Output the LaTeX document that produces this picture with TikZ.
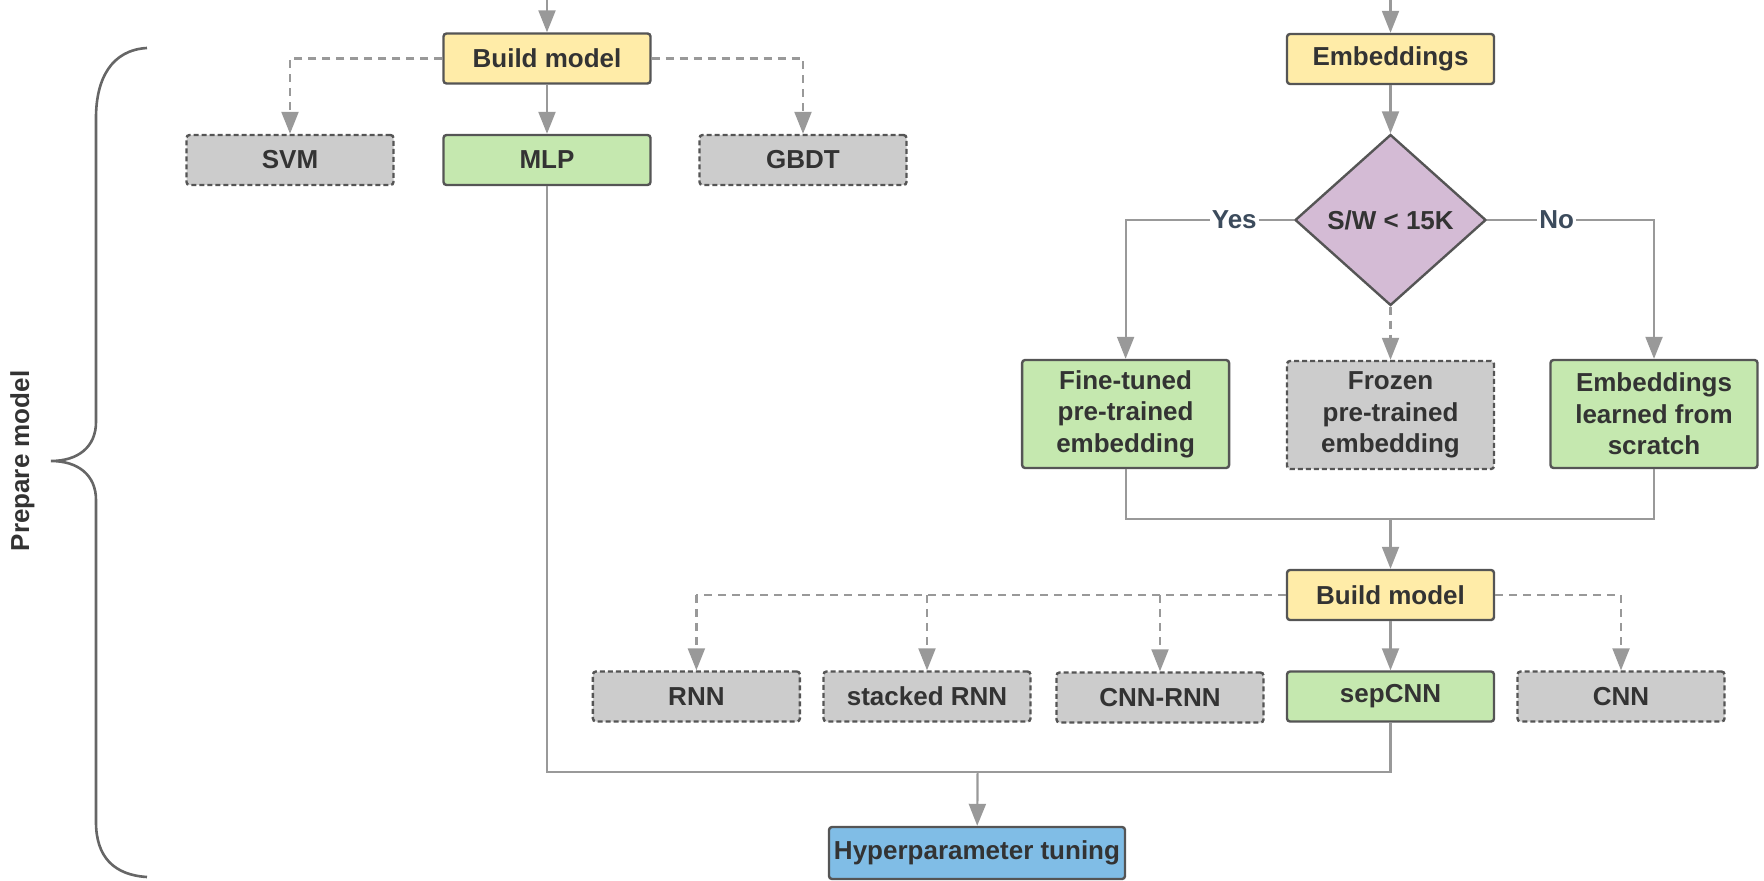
\documentclass[tikz,border=0pt]{standalone}
\usepackage{fontspec}
\setmainfont{Liberation Sans}
\usetikzlibrary{arrows.meta,shapes.geometric}

\definecolor{boxyellow}{HTML}{FFECA8}
\definecolor{boxgreen}{HTML}{C5E8AF}
\definecolor{boxgray}{HTML}{CCCCCC}
\definecolor{boxpurple}{HTML}{D4BBD5}
\definecolor{boxblue}{HTML}{80BDE6}
\definecolor{edgegray}{HTML}{555555}
\definecolor{linkgray}{HTML}{999999}
\definecolor{textdark}{HTML}{333333}
\definecolor{labelslate}{HTML}{3C4B5C}
\definecolor{bracegray}{HTML}{666666}

\tikzset{
  boxfont/.style={font=\bfseries\fontsize{13}{15.75}\selectfont},
  box/.style={draw=edgegray, line width=1.2pt, rounded corners=1.5pt,
    minimum width=103.5pt, minimum height=25pt, inner sep=0pt,
    align=center, boxfont, text=textdark},
  yellowbox/.style={box, fill=boxyellow},
  greenbox/.style={box, fill=boxgreen},
  optbox/.style={box, fill=boxgray, dash pattern=on 2.5pt off 1.5pt},
  bluebox/.style={box, fill=boxblue},
  tallbox/.style={minimum height=54pt},
  decision/.style={diamond, draw=edgegray, line width=1.2pt, fill=boxpurple,
    minimum width=95.5pt, minimum height=85.5pt, inner sep=0pt,
    boxfont, text=textdark},
  link/.style={draw=linkgray, line width=1.1pt},
  arrowlink/.style={link, -{Triangle[length=11pt,width=8.5pt]}},
  optline/.style={link, dash pattern=on 4pt off 3pt},
  optlink/.style={arrowlink, dash pattern=on 4pt off 3pt},
  branchlabel/.style={fill=white, inner sep=1pt, boxfont, text=labelslate},
}

\begin{document}
\begin{tikzpicture}[x=0.5pt,y=-0.5pt]
\useasboundingbox (0,0) rectangle (1764,881);

% left-hand column: classic models
\node[yellowbox] (bm1) at (547,58.5) {Build model};
\node[optbox] (svm) at (290,160) {SVM};
\node[greenbox] (mlp) at (547,160) {MLP};
\node[optbox] (gbdt) at (803,160) {GBDT};

% right-hand column: embeddings and sequence models
\node[yellowbox] (emb) at (1390.5,59) {Embeddings};
\node[decision] (sw) at (1390.5,220) {S/W < 15K};
\node[greenbox,tallbox] (fine) at (1125.6,414) {Fine-tuned\\pre-trained\\embedding};
\node[optbox,tallbox] (frozen) at (1390.5,415) {Frozen\\pre-trained\\embedding};
\node[greenbox,tallbox] (scratch) at (1654,414) {Embeddings\\learned from\\scratch};
\node[yellowbox] (bm2) at (1390.5,595) {Build model};
\node[optbox] (rnn) at (696.4,696.5) {RNN};
\node[optbox] (srnn) at (927,696.5) {stacked RNN};
\node[optbox] (cnnrnn) at (1160,697.5) {CNN-RNN};
\node[greenbox] (sepcnn) at (1390.5,696.5) {sepCNN};
\node[optbox] (cnn) at (1621,696.5) {CNN};

\node[bluebox, minimum width=148pt, minimum height=26pt] (hp) at (977,853) {Hyperparameter tuning};

% incoming flows
\coordinate (in1) at (547,0);
\coordinate (in2) at (1390.5,0);
\draw[arrowlink] (in1) -- (bm1);
\draw[arrowlink] (in2) -- (emb);

% classic model choices
\draw[optlink] (bm1.west) -| (svm.north);
\draw[optlink] (bm1.east) -| (gbdt.north);
\draw[arrowlink] (bm1) -- (mlp);

% embedding decision
\draw[arrowlink] (emb) -- (sw);
\draw[arrowlink] (sw.west) -| node[branchlabel, pos=0.177] {Yes} (fine.north);
\draw[arrowlink] (sw.east) -| node[branchlabel, pos=0.208] {No} (scratch.north);
\draw[optlink] (sw.south) -- (frozen.north);

\coordinate (join1) at (1390.5,518.6);
\draw[link] (fine.south) |- (join1) -| (scratch.south);
\draw[arrowlink] (join1) -- (bm2);

% sequence model choices
\coordinate (r1) at (rnn.north |- bm2.west);
\coordinate (r2) at (srnn.north |- bm2.west);
\coordinate (r3) at (cnnrnn.north |- bm2.west);
\draw[optline] (bm2.west) -- (r1);
\draw[optlink] (r1) -- (rnn.north);
\draw[optlink] (r2) -- (srnn.north);
\draw[optlink] (r3) -- (cnnrnn.north);
\draw[optlink] (bm2.east) -| (cnn.north);
\draw[arrowlink] (bm2) -- (sepcnn);

% merge into tuning
\coordinate (join2) at (977.6,771.75);
\draw[link] (mlp.south) |- (join2) -| (sepcnn.south);
\draw[arrowlink] (join2) -- (hp);

% brace for the whole stage
\draw[bracegray, line width=1.3pt]
  (147,48) .. controls (112,50) and (96,78) .. (96,118) -- (96,422)
  .. controls (96,447) and (78,461) .. (51,461)
  .. controls (78,461) and (96,475) .. (96,500) -- (96,822)
  .. controls (96,857) and (114,875) .. (147,877);
\node[rotate=90, boxfont, text=textdark] (prep) at (22.5,461) {Prepare model};
\end{tikzpicture}
\end{document}
